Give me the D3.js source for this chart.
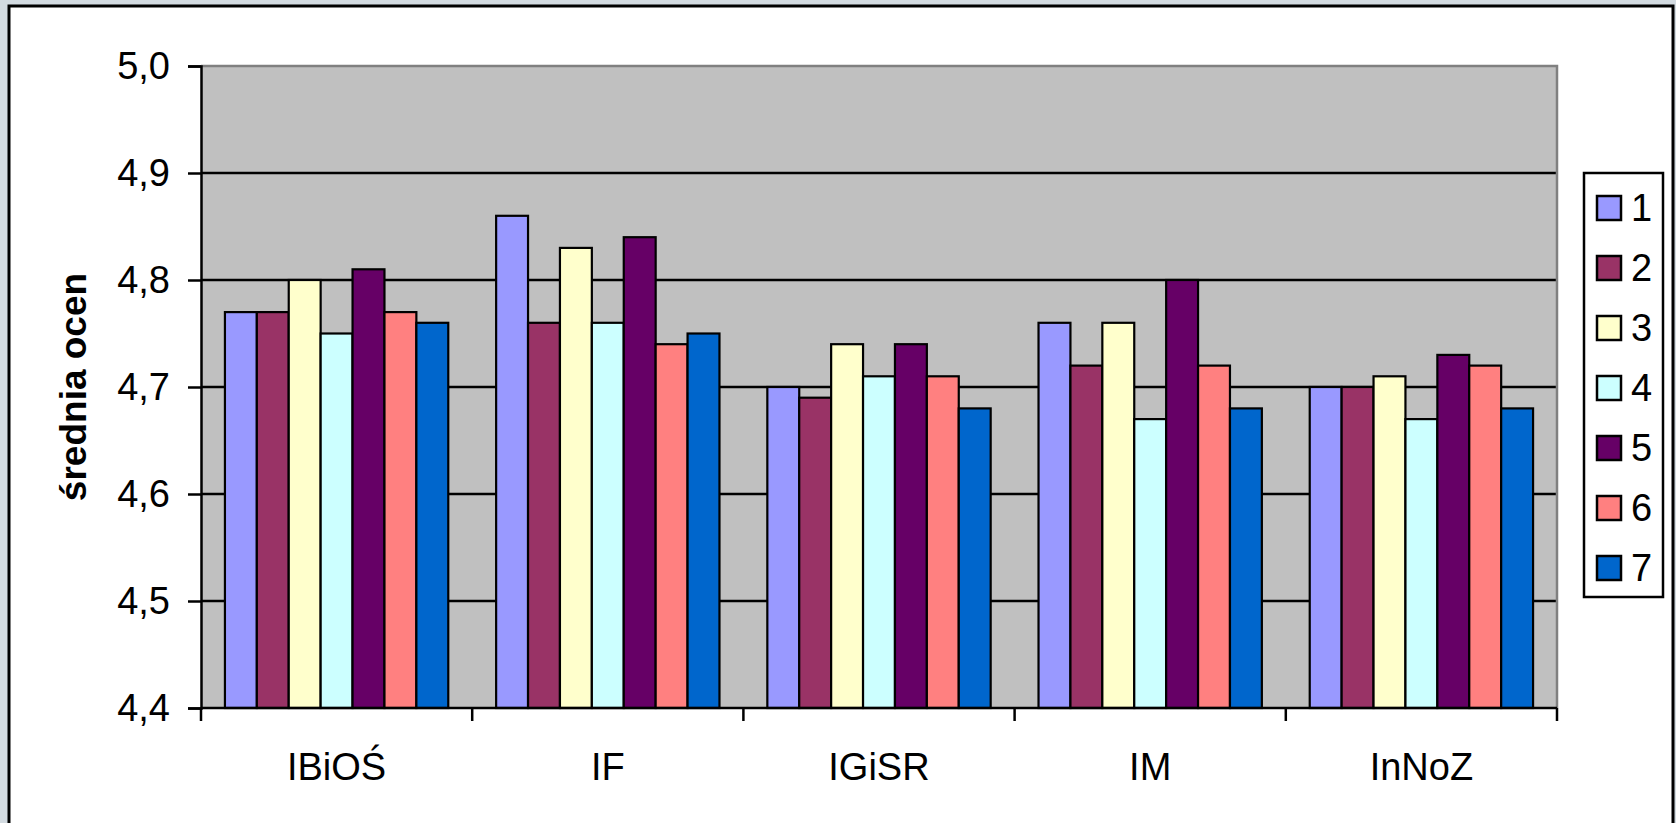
<!DOCTYPE html>
<html>
<head>
<meta charset="utf-8">
<script src="https://cdn.jsdelivr.net/npm/d3@7"></script>
<style>
  html, body { margin: 0; padding: 0; background: #d3dbe1; }
  svg { display: block; font-family: Arial, "Liberation Sans", sans-serif; }
</style>
</head>
<body>
<svg id="chart" width="1676" height="823"></svg>
<script>
// data
const categories = ['IBiOŚ', 'IF', 'IGiSR', 'IM', 'InNoZ'];
const seriesNames = ['1', '2', '3', '4', '5', '6', '7'];
const seriesColors = ['#9999ff', '#993366', '#ffffcc', '#ccffff', '#660066', '#ff8080', '#0066cc'];
const values1 = [4.77, 4.86, 4.70, 4.76, 4.70];
const values2 = [4.77, 4.76, 4.69, 4.72, 4.70];
const values3 = [4.80, 4.83, 4.74, 4.76, 4.71];
const values4 = [4.75, 4.76, 4.71, 4.67, 4.67];
const values5 = [4.81, 4.84, 4.74, 4.80, 4.73];
const values6 = [4.77, 4.74, 4.71, 4.72, 4.72];
const values7 = [4.76, 4.75, 4.68, 4.68, 4.68];
const yTicks = [4.4, 4.5, 4.6, 4.7, 4.8, 4.9, 5.0];
const yTitle = 'średnia ocen';

const allSeries = [values1, values2, values3, values4, values5, values6, values7];

const svg = d3.select('#chart');

// white chart frame
svg.append('rect')
  .attr('x', 9).attr('y', 6)
  .attr('width', 1664).attr('height', 840)
  .attr('fill', '#ffffff')
  .attr('stroke', '#000').attr('stroke-width', 3);

const plot = { left: 201, top: 66, right: 1557, bottom: 708 };

const x = d3.scaleBand()
  .domain(categories)
  .range([plot.left, plot.right]);

const xInner = d3.scaleBand()
  .domain(seriesNames)
  .range([0, x.bandwidth()])
  .paddingOuter(0.75);

const y = d3.scaleLinear()
  .domain([4.4, 5.0])
  .range([plot.bottom, plot.top]);

// plot background
svg.append('rect')
  .attr('x', plot.left).attr('y', plot.top)
  .attr('width', plot.right - plot.left).attr('height', plot.bottom - plot.top)
  .attr('fill', '#c0c0c0');

// gridlines
svg.append('g')
  .selectAll('line')
  .data(yTicks.slice(1, -1))
  .join('line')
  .attr('x1', plot.left).attr('x2', plot.right)
  .attr('y1', d => y(d)).attr('y2', d => y(d))
  .attr('stroke', '#000').attr('stroke-width', 2.5);

// top and right border of plot area
svg.append('path')
  .attr('d', `M${plot.left},${plot.top}H${plot.right}V${plot.bottom}`)
  .attr('fill', 'none')
  .attr('stroke', '#808080').attr('stroke-width', 2.5);

// bars
const groups = svg.append('g')
  .selectAll('g')
  .data(categories)
  .join('g')
  .attr('transform', d => `translate(${x(d)},0)`);

groups.selectAll('rect')
  .data((c, ci) => seriesNames.map((s, si) => ({ s, si, v: allSeries[si][ci] })))
  .join('rect')
  .attr('x', d => xInner(d.s))
  .attr('width', xInner.bandwidth())
  .attr('y', d => y(d.v))
  .attr('height', d => y(4.4) - y(d.v))
  .attr('fill', d => seriesColors[d.si])
  .attr('stroke', '#000')
  .attr('stroke-width', 2.2);

// y axis
const yAxis = svg.append('g')
  .attr('transform', `translate(${plot.left},0)`)
  .call(d3.axisLeft(y).tickValues(yTicks).tickSize(13).tickPadding(18)
    .tickFormat(d => d3.format('.1f')(d).replace('.', ',')));
yAxis.select('.domain').attr('stroke', '#000').attr('stroke-width', 2.5);
yAxis.selectAll('.tick line').attr('stroke', '#000').attr('stroke-width', 2.5);
yAxis.selectAll('.tick text')
  .attr('font-size', 38).attr('fill', '#000')
  .attr('font-family', 'Arial, "Liberation Sans", sans-serif');

// x axis: ticks at group boundaries
const xAxis = svg.append('g')
  .attr('transform', `translate(0,${plot.bottom})`);
xAxis.append('line')
  .attr('x1', plot.left).attr('x2', plot.right)
  .attr('stroke', '#000').attr('stroke-width', 2.5);
xAxis.selectAll('line.tick')
  .data(categories.concat(['end']))
  .join('line')
  .attr('class', 'tick')
  .attr('x1', (d, i) => i < categories.length ? x(d) : plot.right)
  .attr('x2', (d, i) => i < categories.length ? x(d) : plot.right)
  .attr('y1', 0).attr('y2', 13)
  .attr('stroke', '#000').attr('stroke-width', 2.5);
xAxis.selectAll('text')
  .data(categories)
  .join('text')
  .attr('x', d => x(d) + x.bandwidth() / 2)
  .attr('y', 72)
  .attr('text-anchor', 'middle')
  .attr('font-size', 38)
  .text(d => d);

// y title
svg.append('text')
  .attr('transform', `translate(86,${(plot.top + plot.bottom) / 2}) rotate(-90)`)
  .attr('text-anchor', 'middle')
  .attr('font-size', 37)
  .attr('font-weight', 'bold')
  .text(yTitle);

// legend
const legend = svg.append('g');
legend.append('rect')
  .attr('x', 1584).attr('y', 173)
  .attr('width', 79).attr('height', 424)
  .attr('fill', '#fff')
  .attr('stroke', '#000').attr('stroke-width', 2.5);

const items = legend.selectAll('g.item')
  .data(seriesNames)
  .join('g')
  .attr('class', 'item')
  .attr('transform', (d, i) => `translate(1597,${208 + i * 60})`);
items.append('rect')
  .attr('x', 0).attr('y', -12)
  .attr('width', 24).attr('height', 24)
  .attr('fill', (d, i) => seriesColors[i])
  .attr('stroke', '#000').attr('stroke-width', 2.5);
items.append('text')
  .attr('x', 34).attr('y', 13)
  .attr('font-size', 38)
  .text(d => d);
</script>
</body>
</html>
